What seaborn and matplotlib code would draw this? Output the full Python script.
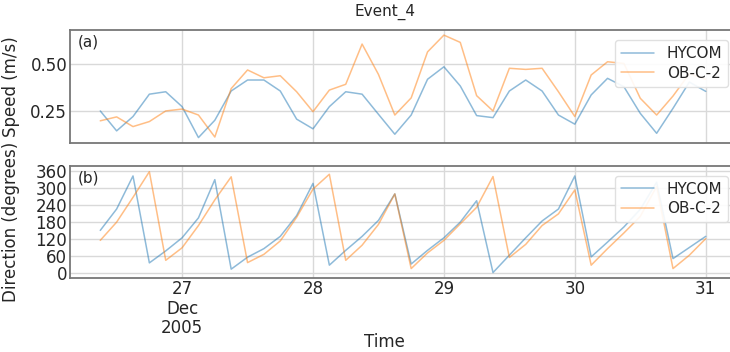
import numpy as np
import pandas as pd
import matplotlib
matplotlib.use("Agg")
import matplotlib.pyplot as plt
import seaborn as sns

# ---- data (3-hourly, 26 Dec 2005 09:00 -> 31 Dec 2005 00:00) ----
start_time = "2005-12-26 09:00"
n_steps = 38
speed_hycom = [0.25, 0.143, 0.22, 0.34, 0.353, 0.273, 0.107, 0.20, 0.357, 0.416,
               0.416, 0.357, 0.206, 0.154, 0.273, 0.353, 0.34, 0.232, 0.125, 0.228,
               0.42, 0.487, 0.384, 0.225, 0.214, 0.357, 0.416, 0.357, 0.228, 0.179,
               0.336, 0.425, 0.38, 0.237, 0.13, 0.264, 0.405, 0.355]
speed_obc2 = [0.197, 0.218, 0.166, 0.193, 0.25, 0.26, 0.228, 0.11, 0.37, 0.47,
              0.428, 0.439, 0.353, 0.246, 0.362, 0.393, 0.609, 0.446, 0.228, 0.32,
              0.567, 0.657, 0.618, 0.332, 0.25, 0.479, 0.473, 0.479, 0.353, 0.22,
              0.443, 0.514, 0.505, 0.318, 0.228, 0.33, 0.45, 0.42]
dir_hycom = [151, 226, 342, 37, 79, 125, 195, 329, 15, 57,
             87, 130, 203, 316, 29, 81, 130, 186, 279, 33,
             81, 125, 180, 255, 3, 64, 125, 184, 226, 342,
             58, 110, 163, 225, 320, 52, 91, 130]
dir_obc2 = [116, 180, 267, 357, 46, 90, 168, 258, 339, 38,
            67, 114, 197, 296, 348, 46, 99, 172, 279, 17,
            72, 116, 174, 232, 340, 56, 102, 168, 209, 293,
            29, 87, 142, 200, 305, 17, 64, 122]
series_names = ["HYCOM", "OB-C-2"]
speed_ticks = [0.25, 0.50]
dir_ticks = [0, 60, 120, 180, 240, 300, 360]
day_ticks = ["2005-12-27", "2005-12-28", "2005-12-29", "2005-12-30", "2005-12-31"]
day_labels = ["27\nDec\n2005", "28", "29", "30", "31"]

times = pd.date_range(start_time, periods=n_steps, freq="3h")
df = pd.concat([
    pd.DataFrame({"Time": times, "Speed": speed_hycom, "Direction": dir_hycom, "Model": series_names[0]}),
    pd.DataFrame({"Time": times, "Speed": speed_obc2, "Direction": dir_obc2, "Model": series_names[1]}),
])

sns.set_theme(style="whitegrid")
plt.rcParams["font.family"] = ["DejaVu Sans"]
palette = {"HYCOM": "#1f77b4", "OB-C-2": "#ff7f0e"}

fig = plt.figure(figsize=(7.30, 3.52), dpi=100)
ax1 = fig.add_axes([70/730, 1-142.7/352, (736-70)/730, (142.7-30)/352])
ax2 = fig.add_axes([70/730, 1-277.7/352, (736-70)/730, (277.7-165.7)/352], sharex=ax1)

sns.lineplot(data=df, x="Time", y="Speed", hue="Model", palette=palette, ax=ax1,
             alpha=0.5, linewidth=1.1)
sns.lineplot(data=df, x="Time", y="Direction", hue="Model", palette=palette, ax=ax2,
             alpha=0.5, linewidth=1.1)

t0, t1 = times[0], times[-1]
span = t1 - t0
ax1.set_xlim(t0 - span * 0.05, t1 + span * 0.05)
ax1.set_ylim(0.0795, 0.6845)
ax2.set_ylim(-15, 378)

ax1.set_yticks(speed_ticks)
ax1.set_yticklabels(["0.25", "0.50"])
ax2.set_yticks(dir_ticks)
ax2.set_xticks(pd.to_datetime(day_ticks))
ax2.set_xticklabels(day_labels, linespacing=1.1)
plt.setp(ax1.get_xticklabels(), visible=False)

for ax in (ax1, ax2):
    ax.tick_params(labelsize=12, length=0, pad=2)
    ax.grid(True, color="#d9d9d9", linewidth=1.0)
    for s in ax.spines.values():
        s.set_color("#777777")
        s.set_linewidth(1.3)
    leg = ax.legend(loc="upper right", fontsize=11, frameon=True, handlelength=2.2,
                    borderpad=0.4, labelspacing=0.3, bbox_to_anchor=(1.0, 0.98))
    leg.get_frame().set_edgecolor("#dddddd")
    leg.get_frame().set_alpha(0.9)

ax1.set_xlabel("")
ax2.set_xlabel("")
ax1.set_ylabel("Speed (m/s)", fontsize=12)
ax2.set_ylabel("Direction (degrees)", fontsize=12)
ax1.yaxis.set_label_coords(-0.075, 0.5)
ax2.yaxis.set_label_coords(-0.075, 0.5)
fig.text(384/730, 1-342/352, "Time", fontsize=12, ha="center", va="center")

ax1.text(0.012, 0.96, "(a)", transform=ax1.transAxes, fontsize=11, va="top", ha="left")
ax2.text(0.012, 0.96, "(b)", transform=ax2.transAxes, fontsize=11, va="top", ha="left")
fig.text(385/730, 1-12/352, "Event_4", fontsize=11, ha="center", va="center")

fig.savefig("out.png", dpi=100)
